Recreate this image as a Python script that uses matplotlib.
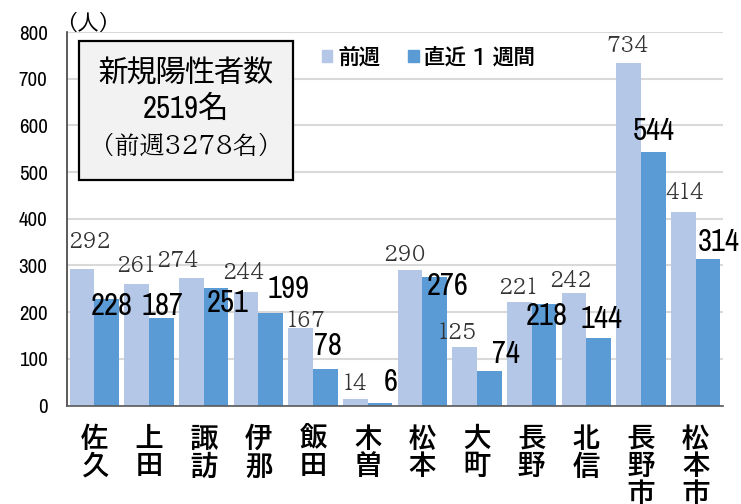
import matplotlib
matplotlib.use('Agg')
import matplotlib.pyplot as plt
import numpy as np
from matplotlib.patches import Rectangle, Patch

categories = ['佐久', '上田', '諏訪', '伊那', '飯田', '木曽', '松本', '大町', '長野', '北信', '長野市', '松本市']
prev_week = [292, 261, 274, 244, 167, 14, 290, 125, 221, 242, 734, 414]
last_week = [228, 187, 251, 199, 78, 6, 276, 74, 218, 144, 544, 314]
series_names = ['前週', '直近 1 週間']
yticks = [0, 100, 200, 300, 400, 500, 600, 700, 800]

# label offsets in pixels from the bar top (the labels were hand placed)
prev_off = [(7.5, 29), (-0.5, 20), (-13.5, 19), (-2.5, 20.7), (5.5, 9), (0, 17),
            (-5.5, 17), (-8, 16.5), (-1.5, 16), (-3.5, 13.5), (-0.5, 18.7), (2, 21)]
last_off = [(5, -4.5), (1.5, 14), (12, -13), (17.5, 25.7), (2.5, 25), (11, 22.7),
            (13.5, -7.5), (17, 18.5), (3, -10.5), (3, 21), (0.5, 22.7), (10.5, 19)]

gothic = ['BIZ UDPGothic', 'Noto Sans CJK JP', 'DejaVu Sans']
mincho = ['BIZ UDPMincho', 'Liberation Serif', 'Noto Sans CJK JP']
narrow = ['Archivo Narrow', 'Liberation Sans', 'Noto Sans CJK JP']
plt.rcParams['font.family'] = gothic

light = '#B4C7E7'
dark = '#5B9BD5'

W, H = 741, 504
fig = plt.figure(figsize=(W / 100, H / 100), dpi=100)
ax = fig.add_axes([67 / W, 1 - 405.5 / H, 656 / W, 373.5 / H])

x = np.arange(len(categories))
w = 0.45
ax.bar(x - w / 2, prev_week, w, color=light, zorder=2)
ax.bar(x + w / 2, last_week, w, color=dark, zorder=2)

ax.set_xlim(-0.5, len(categories) - 0.5)
ax.set_ylim(0, 800)
ax.set_yticks(yticks)
ax.set_yticklabels([str(v) for v in yticks], family=narrow, fontsize=15)
ax.set_xticks(x)
ax.set_xticklabels(['\n'.join(c) for c in categories], fontsize=19.5, weight='bold',
                   linespacing=1.08, va='top')
ax.tick_params(axis='both', length=0)
ax.tick_params(axis='y', pad=14)
ax.tick_params(axis='x', pad=13)
ax.grid(axis='y', color='#D9D9D9', linewidth=1.5)
ax.set_axisbelow(True)
for s in ['top', 'right']:
    ax.spines[s].set_visible(False)
ax.spines['left'].set_color('#404040')
ax.spines['left'].set_linewidth(1.2)
ax.spines['bottom'].set_color('#595959')
ax.spines['bottom'].set_linewidth(1.2)

for i in range(len(categories)):
    dx, dy = prev_off[i]
    ax.annotate(str(prev_week[i]), (x[i] - w / 2, prev_week[i]), xytext=(dx, dy - 8),
                textcoords='offset pixels', ha='center', va='baseline',
                family=mincho, fontsize=15, color='#333333',
                annotation_clip=False, zorder=5)
    dx, dy = last_off[i]
    ax.annotate(str(last_week[i]), (x[i] + w / 2, last_week[i]), xytext=(dx, dy - 11),
                textcoords='offset pixels', ha='center', va='baseline',
                family=narrow, weight='bold', fontsize=22, color='black',
                annotation_clip=False, zorder=5)

# unit label
fig.text(88 / W, 1 - 22 / H, '（人）', ha='center', va='center', fontsize=15)

# summary box
fig.patches.append(Rectangle((79 / W, 1 - 180 / H), 214 / W, 139.3 / H,
                             transform=fig.transFigure, facecolor='#F2F2F2',
                             edgecolor='black', linewidth=1.6, zorder=3))
cx = 186 / W
fig.text(cx, 1 - 71 / H, '新規陽性者数', ha='center', va='center', fontsize=21, zorder=4)
fig.text(cx, 1 - 108.5 / H, f'{sum(last_week)}名', ha='center', va='center',
         family=narrow, fontsize=22, zorder=4)
fig.text(cx, 1 - 145 / H, f'（前週{sum(prev_week)}名）', ha='center', va='center',
         family=mincho, fontsize=18, zorder=4)

handles = [Patch(color=light), Patch(color=dark)]
fig.legend(handles, series_names, loc='center left', bbox_to_anchor=(322 / W, 1 - 56 / H),
           ncol=2, frameon=False, handlelength=0.5, handleheight=0.5,
           handletextpad=0.28, columnspacing=1.35, borderpad=0, borderaxespad=0,
           prop={'family': gothic, 'size': 15, 'weight': 'bold'})

fig.savefig('out.png', dpi=100)
